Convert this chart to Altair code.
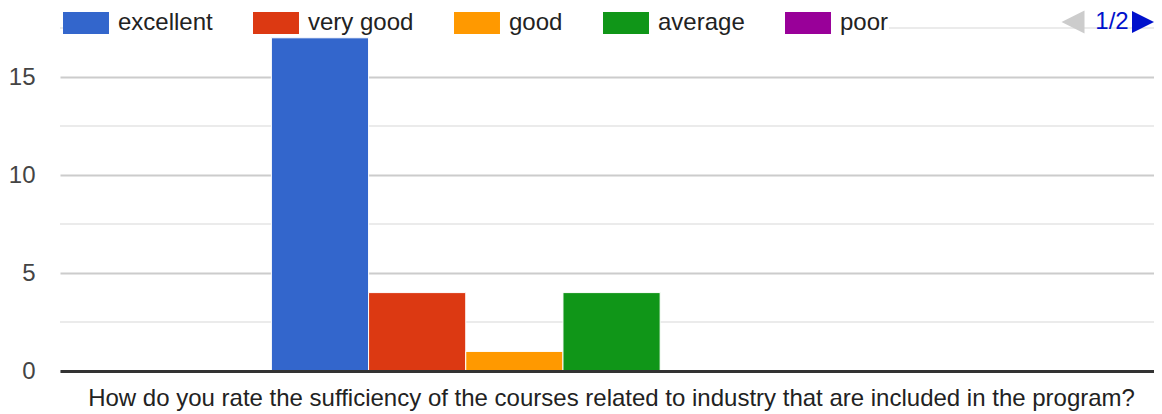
import altair as alt
import pandas as pd

ratings = ["excellent", "very good", "good", "average", "poor"]
counts = [17, 4, 1, 4, 0]
colors = ["#3366cc", "#dc3912", "#ff9900", "#109618", "#990099"]
major_ticks = [0, 5, 10, 15]
minor_ticks = [2.5, 7.5, 12.5, 17.5]
question = ("How do you rate the sufficiency of the courses related to industry "
            "that are included in the program?")
pager_text = ["1/2"]

FONT = "Liberation Sans"
W, H = 1094, 343

bars_df = pd.DataFrame({"question": [question] * len(ratings), "rating": ratings, "count": counts})
minor_df = pd.DataFrame({"v": minor_ticks})
pager_df = pd.DataFrame({"t": pager_text})

yscale = alt.Scale(domain=[0, 17.5], nice=False, zero=True)
yaxis = alt.Axis(
    values=major_ticks, grid=True, gridColor="#cccccc", gridWidth=2,
    domain=False, ticks=False, labelFont=FONT, labelFontSize=24,
    labelColor="#444444", labelPadding=25, title=None,
)

minor = alt.Chart(minor_df).mark_rule(color="#ebebeb", strokeWidth=2).encode(
    y=alt.Y("v:Q", scale=yscale, axis=yaxis)
)

bars = alt.Chart(bars_df).mark_bar(stroke="white", strokeWidth=1).encode(
    x=alt.X(
        "question:N",
        scale=alt.Scale(paddingInner=0, paddingOuter=0.304, align=0.511),
        axis=alt.Axis(
            ticks=False, grid=False, title=None,
            domainColor="#333333", domainWidth=3,
            labelFont=FONT, labelFontSize=24, labelColor="#222222",
            labelPadding=15, labelLimit=0, labelAngle=0,
            zindex=1,
        ),
    ),
    xOffset=alt.XOffset(
        "rating:N",
        sort=ratings,
        scale=alt.Scale(domain=ratings, paddingInner=0, paddingOuter=1, align=0),
    ),
    y=alt.Y("count:Q", scale=yscale, axis=yaxis),
    color=alt.Color(
        "rating:N",
        scale=alt.Scale(domain=ratings, range=colors),
        legend=alt.Legend(
            title=None, orient="none", direction="horizontal",
            legendX=14, legendY=-17,
            symbolType="M-2.09,-1H2.09V1H-2.09Z", symbolSize=484,
            symbolStrokeWidth=0, symbolOpacity=1,
            labelFont=FONT, labelFontSize=24, labelColor="#222222",
            labelOffset=20, columnPadding=40, padding=0,
            fillColor="white", labelLimit=0,
        ),
    ),
)

pager_label = alt.Chart(pager_df).mark_text(
    font=FONT, fontSize=24, color="#0011cc", baseline="middle", align="center"
).encode(text="t:N", x=alt.value(1052), y=alt.value(-6))

left_tri = alt.Chart(pager_df).mark_point(
    shape="M1,-1L1,1L-1,0Z", filled=True, size=529, color="#cccccc",
    opacity=1, strokeWidth=0,
).encode(x=alt.value(1013), y=alt.value(-6))

right_tri = alt.Chart(pager_df).mark_point(
    shape="M-1,-1L-1,1L1,0Z", filled=True, size=484, color="#0011cc",
    opacity=1, strokeWidth=0,
).encode(x=alt.value(1083), y=alt.value(-6))

chart = (
    alt.layer(minor, bars, pager_label, left_tri, right_tri)
    .properties(
        width=W, height=H,
        padding={"left": 52, "top": 20, "right": 0, "bottom": 43},
        autosize=alt.AutoSizeParams(type="none"),
    )
    .configure_view(stroke=None)
)

chart.save("out.html", embed_options={"renderer": "svg", "actions": False})
